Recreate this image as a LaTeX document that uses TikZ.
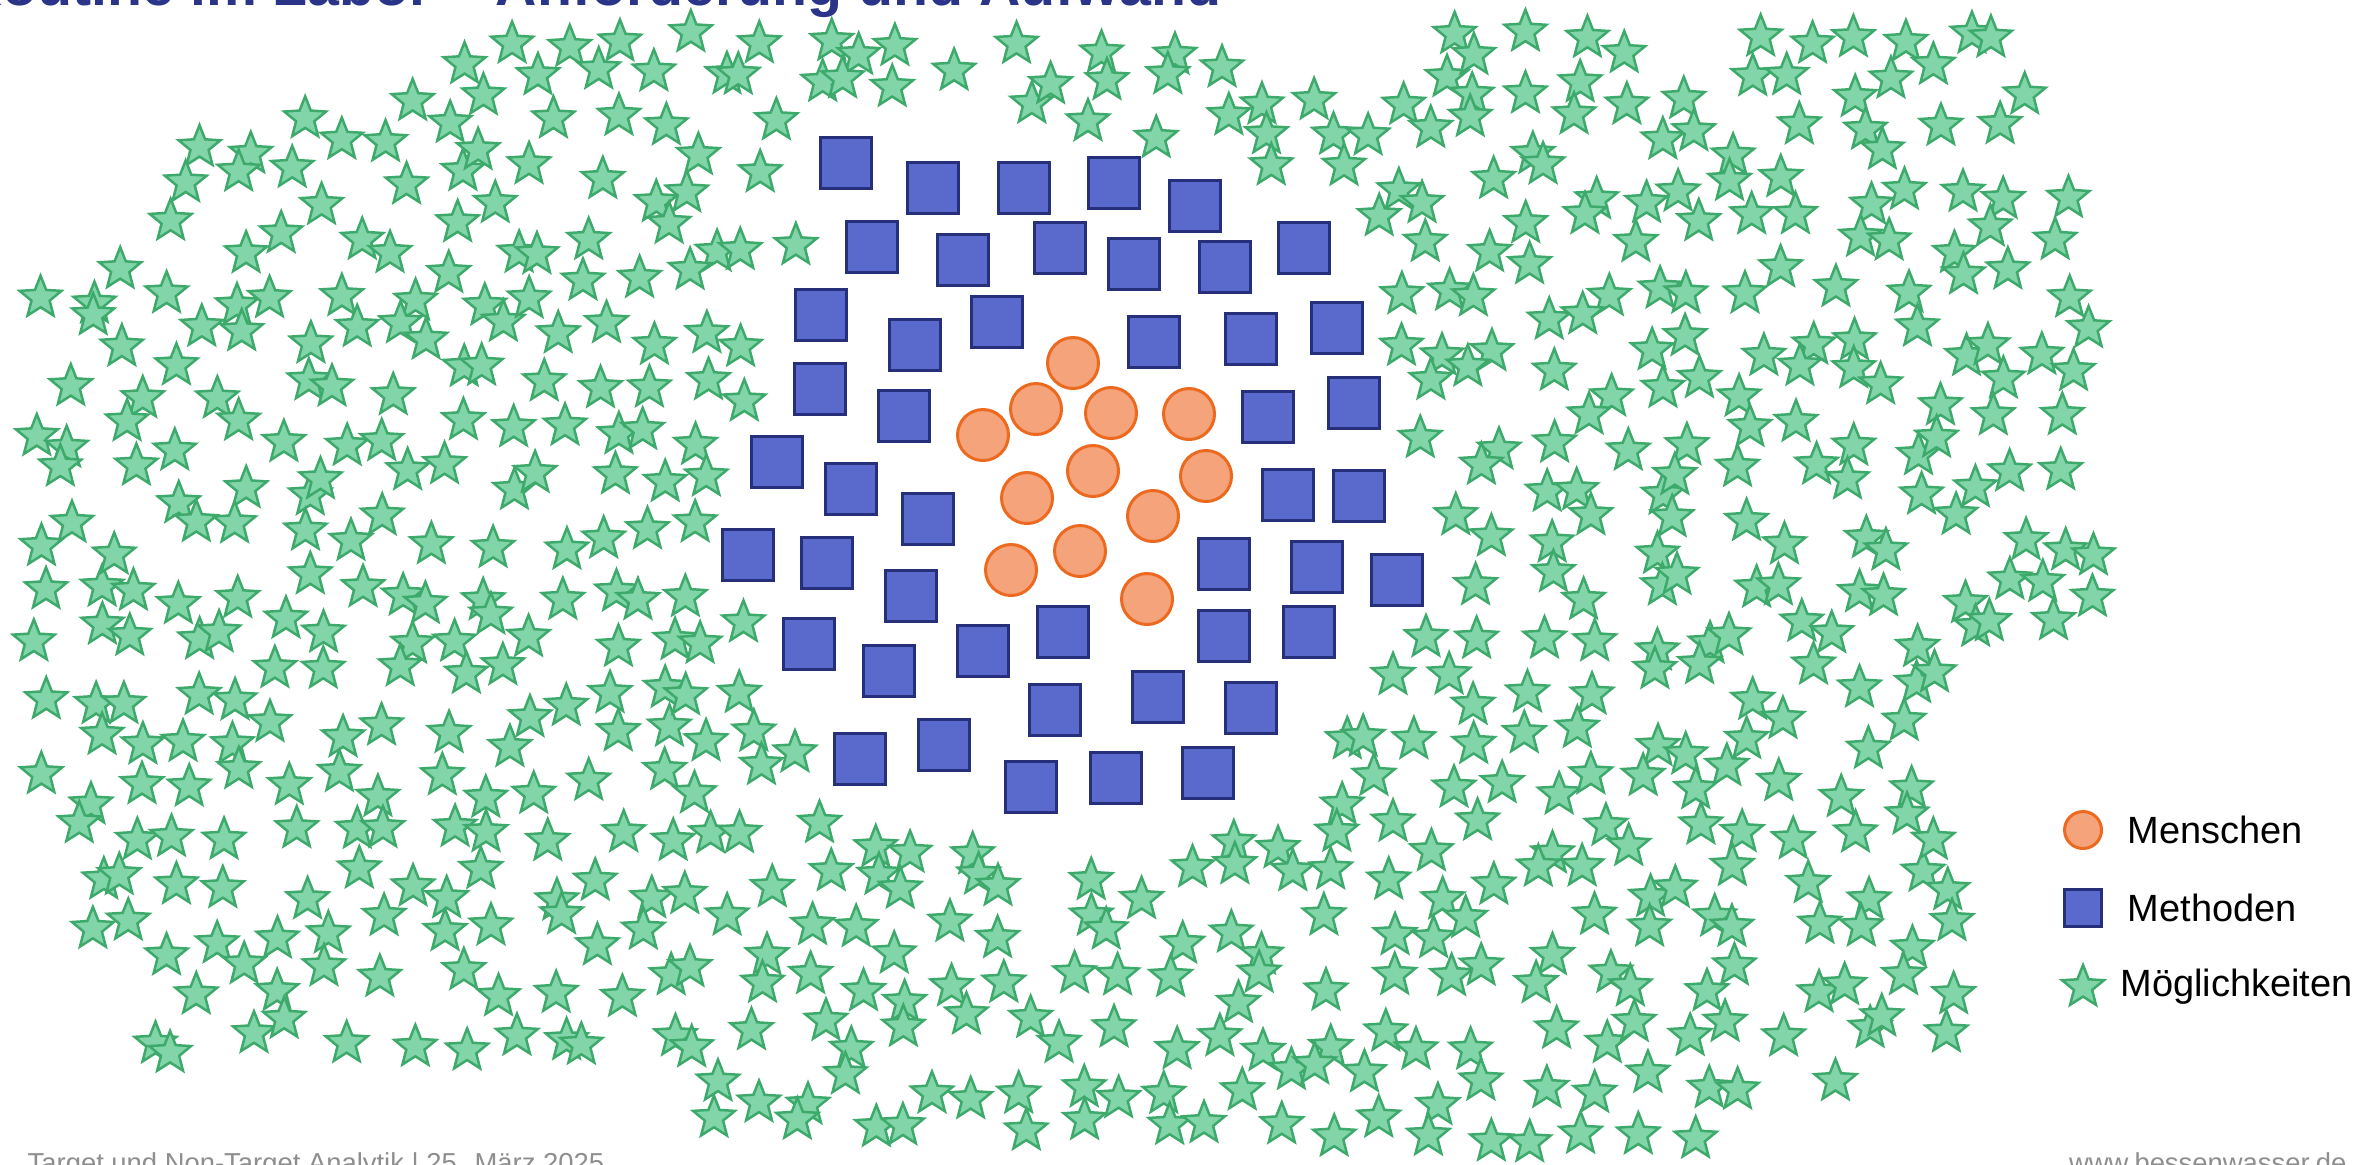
\documentclass[tikz,border=0pt]{standalone}
\usepackage{fontspec}
\setmainfont{Liberation Sans}
\usepackage{tikz}
\usetikzlibrary{positioning,shapes.geometric}
\definecolor{menschfill}{HTML}{F4A37A}
\definecolor{menschline}{HTML}{EC6A1F}
\definecolor{methodefill}{HTML}{5A6ACC}
\definecolor{methodeline}{HTML}{26307A}
\definecolor{chancefill}{HTML}{82D5A8}
\definecolor{chanceline}{HTML}{3DAA6C}
\definecolor{titelblau}{HTML}{2A3488}
\definecolor{fussgrau}{HTML}{8E8E8E}
\newcommand{\methodenpos}{846/163, 933/188, 1024/188, 1114/183, 1195/206, 872/247, 963/260, 1060/248, 1134/264, 1225/267, 1304/248, 821/315, 915/345, 997/322, 1154/342, 1251/339, 1337/328, 820/389, 904/416, 1268/417, 1354/403, 777/462, 851/489, 928/519, 1288/495, 1359/496, 748/555, 827/563, 911/596, 1224/564, 1317/567, 1397/580, 809/644, 889/671, 983/651, 1063/632, 1224/636, 1309/632, 1055/710, 1158/697, 1251/708, 860/759, 944/745, 1031/787, 1116/778, 1208/773}
\newcommand{\menschenpos}{1073/363, 1036/409, 1111/413, 1189/414, 983/435, 1093/471, 1206/476, 1027/498, 1153/516, 1080/551, 1011/570, 1147/599}

\begin{document}
\begin{tikzpicture}[x=0.1mm, y=-0.1mm,
  mensch/.style={circle, draw=menschline, fill=menschfill, line width=0.3mm, minimum size=5.1mm, inner sep=0pt},
  methode/.style={rectangle, draw=methodeline, fill=methodefill, line width=0.3mm, minimum size=5.1mm, inner sep=0pt},
  chance/.style={star, star points=5, star point ratio=2.3, draw=chanceline, fill=chancefill, line width=0.25mm, minimum size=4.4mm, inner sep=0pt},
  legtext/.style={font=\fontsize{10.8}{13}\selectfont, inner sep=0pt}]
  \useasboundingbox (0,0) rectangle (2369,1164);

  \node[font=\bfseries\fontsize{16.3}{20}\selectfont, text=titelblau, anchor=base east, inner sep=0pt] (titel) at (1222,5) {Routine im Labor – Anforderung und Aufwand};

  \pgfmathsetseed{2025}
  \foreach \i in {0,...,40}{
    \foreach \j in {0,...,22}{
      \pgfmathsetmacro\stx{30+52*\i+44*(rnd-0.5)}
      \pgfmathsetmacro\sty{35+50*\j+42*(rnd-0.5)}
      \pgfmathtruncatemacro\drin{(\stx>28)*(\stx<2095)*(\sty>30)*(1-(\stx<166)*(\sty<264))*(1-(\stx<453)*(\sty<98))*(1-(\stx<83)*(\sty>891))*(1-(\stx<150)*(\sty>950))*(1-(\stx>1957)*(\sty>695))*(1-(\stx>2055)*(\sty<144))*(\sty<(\stx<695 ? 1065 : (\stx<1738 ? 1145 : 1088)))}
      \pgfmathsetmacro\elab{((\stx-1072)/360)^2+((\sty-475)/345)^2}
      \ifdim\elab pt<1.6pt
        \ifdim\elab pt<0.55pt \def\drin{0}\fi
        \global\let\frei\drin
        \foreach \qx/\qy in \methodenpos {
          \pgfmathtruncatemacro\zu{((\stx-\qx)/100)^2+((\sty-\qy)/100)^2<0.38}
          \ifnum\zu=1 \gdef\frei{0}\fi
        }
        \let\drin\frei
      \fi
      \ifnum\drin=1
        \node[chance] (s-\i-\j) at (\stx,\sty) {};
      \fi
    }
  }

  \foreach \x/\y [count=\n] in \methodenpos
    \node[methode] (q\n) at (\x,\y) {};
  \foreach \x/\y [count=\n] in \menschenpos
    \node[mensch] (m\n) at (\x,\y) {};

  \node[mensch, minimum size=3.7mm] (legM) at (2083,830) {};
  \node[methode, minimum size=3.7mm] (legQ) at (2083,908) {};
  \node[chance] (legS) at (2083,987) {};
  \node[legtext, right=2.4mm of legM] (txtM) {Menschen};
  \node[legtext, right=2.4mm of legQ] (txtQ) {Methoden};
  \node[legtext, right=2.2mm of legS] (txtS) {Möglichkeiten};

  \node[font=\fontsize{7.8}{9}\selectfont, text=fussgrau, anchor=base west, inner sep=0pt] (fussl) at (27,1172) {Target und Non-Target Analytik | 25. März 2025};
  \node[font=\fontsize{7.8}{9}\selectfont, text=fussgrau, anchor=base east, inner sep=0pt] (fussr) at (2347,1172) {www.bessenwasser.de};
\end{tikzpicture}
\end{document}
